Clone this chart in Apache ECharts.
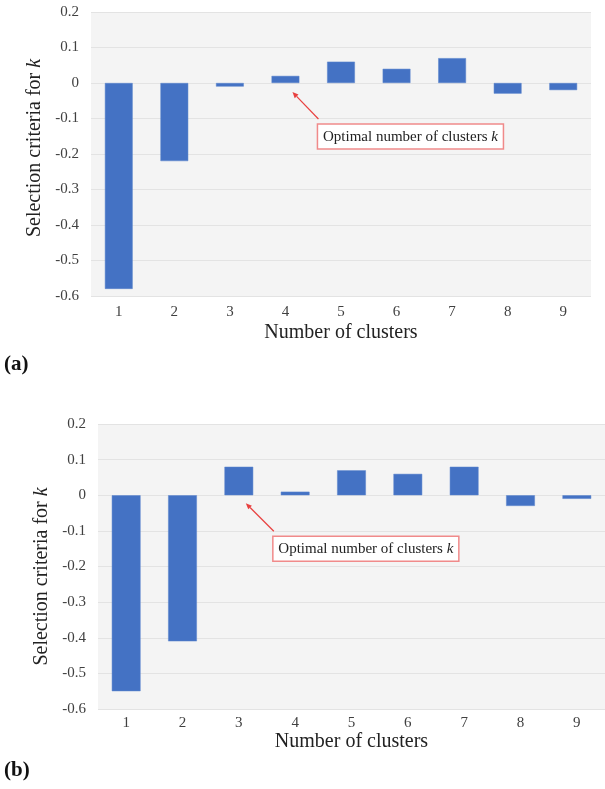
<!DOCTYPE html>
<html>
<head>
<meta charset="utf-8">
<script src="https://cdn.jsdelivr.net/npm/echarts@6/dist/echarts.min.js"></script>
<style>
html,body{margin:0;padding:0;background:#fff;}
#c{width:605px;height:789px;}
</style>
</head>
<body>
<div id="c"></div>
<script>
const categories = ['1','2','3','4','5','6','7','8','9'];
const valuesA = [-0.58, -0.22, -0.01, 0.02, 0.06, 0.04, 0.07, -0.03, -0.02];
const valuesB = [-0.55, -0.41, 0.08, 0.01, 0.07, 0.06, 0.08, -0.03, -0.01];
const yMin = -0.6, yMax = 0.2, yStep = 0.1;
const xTitle = 'Number of clusters';
const yTitle = 'Selection criteria for {i|k}';
const annText = 'Optimal number of clusters {i|k}';
const optimalA = '4';
const optimalB = '3';

const FONT = '"Liberation Serif", "Times New Roman", serif';
const chart = echarts.init(document.getElementById('c'), null, {renderer: 'canvas'});

function fmt(v) {
  const r = Math.round(v * 10) / 10;
  return r === 0 ? '0' : String(r);
}

function yAxis(gi, gap, pad) {
  return {
    type: 'value', gridIndex: gi, min: yMin, max: yMax, interval: yStep,
    name: yTitle, nameLocation: 'middle', nameGap: gap, nameRotate: 90,
    nameTextStyle: {fontFamily: FONT, fontSize: 20, color: '#222', padding: pad,
      rich: {i: {fontFamily: FONT, fontSize: 20, fontStyle: 'italic', color: '#222'}}},
    axisLine: {show: false}, axisTick: {show: false},
    axisLabel: {fontFamily: FONT, fontSize: 15, color: '#404040', margin: 12, formatter: fmt},
    splitLine: {lineStyle: {color: '#e3e3e3', width: 1}}
  };
}
function xAxis(gi, gap, margin) {
  return {
    type: 'category', gridIndex: gi, data: categories,
    name: xTitle, nameLocation: 'middle', nameGap: gap,
    nameTextStyle: {fontFamily: FONT, fontSize: 20, color: '#222'},
    axisLine: {show: false}, axisTick: {show: false},
    axisLabel: {fontFamily: FONT, fontSize: 15, color: '#404040', margin: margin},
    splitLine: {show: false}
  };
}

chart.setOption({
  animation: false,
  backgroundColor: '#ffffff',
  grid: [
    {left: 91, top: 12, width: 500, height: 284, show: true, backgroundColor: '#f4f4f4', borderWidth: 0},
    {left: 98, top: 424, width: 513, height: 285, show: true, backgroundColor: '#f4f4f4', borderWidth: 0}
  ],
  xAxis: [xAxis(0, 27, 9), xAxis(1, 23, 7)],
  yAxis: [yAxis(0, 44, [0, 0, 0, 12]), yAxis(1, 44, [0, 20, 0, 0])],
  series: [
    {type: 'bar', xAxisIndex: 0, yAxisIndex: 0, data: valuesA, barWidth: '50%',
     itemStyle: {color: '#4472c4', borderColor: '#5a84cc', borderWidth: 0.5}},
    {type: 'bar', xAxisIndex: 1, yAxisIndex: 1, data: valuesB, barWidth: '51%',
     itemStyle: {color: '#4472c4', borderColor: '#5a84cc', borderWidth: 0.5}}
  ]
});

function annotation(gi, cat, dx, dy, tx, ty, boxW) {
  const p = chart.convertToPixel({gridIndex: gi}, [cat, 0]);
  const tip = [p[0] + dx, p[1] + dy];
  const tail = [tip[0] + tx, tip[1] + ty];
  const ang = Math.atan2(tip[1] - tail[1], tip[0] - tail[0]);
  const L = 6, W = 2.6;
  const bx = tip[0] - L * Math.cos(ang), by = tip[1] - L * Math.sin(ang);
  const nx = -Math.sin(ang), ny = Math.cos(ang);
  const boxL = tail[0] - 1, boxT = tail[1] + 5;
  return [
    {type: 'line', shape: {x1: tail[0], y1: tail[1], x2: bx, y2: by},
     style: {stroke: '#e8403f', lineWidth: 1.2}, z: 100},
    {type: 'polygon', shape: {points: [tip, [bx + nx * W, by + ny * W], [bx - nx * W, by - ny * W]]},
     style: {fill: '#e8403f'}, z: 100},
    {type: 'rect', shape: {x: boxL, y: boxT, width: boxW, height: 25},
     style: {fill: '#ffffff', stroke: '#f08a8a', lineWidth: 1.5}, z: 100},
    {type: 'text', x: boxL + boxW / 2, y: boxT + 13, z: 101,
     style: {text: annText, fontFamily: FONT, fontSize: 15, fill: '#222', align: 'center', verticalAlign: 'middle',
       rich: {i: {fontFamily: FONT, fontSize: 15, fontStyle: 'italic', fill: '#222'}}}}
  ];
}

const g = [].concat(
  annotation(0, optimalA, 7, 9, 26, 27, 186),
  annotation(1, optimalB, 7, 8, 28, 28, 186),
  [
    {type: 'text', x: 4, y: 365, style: {text: '(a)', fontFamily: FONT, fontSize: 21, fontWeight: 'bold', fill: '#111', verticalAlign: 'middle'}},
    {type: 'text', x: 4, y: 771, style: {text: '(b)', fontFamily: FONT, fontSize: 21, fontWeight: 'bold', fill: '#111', verticalAlign: 'middle'}}
  ]
);
chart.setOption({graphic: g});
</script>
</body>
</html>
